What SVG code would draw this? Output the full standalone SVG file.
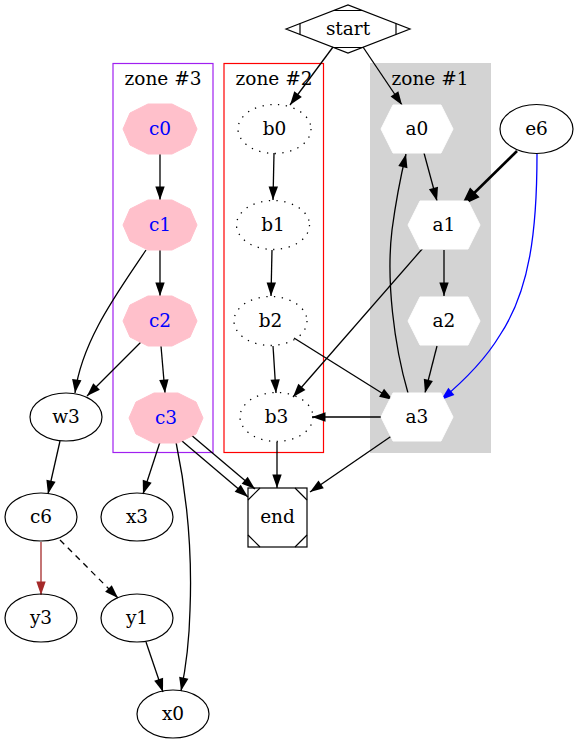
<svg xmlns="http://www.w3.org/2000/svg" width="579" height="744" viewBox="0 0 579 744">
<style>
text{font-family:"DejaVu Serif","Liberation Serif",serif;font-size:18.5px;text-anchor:middle;fill:#000}
.ct{fill:#0000ff}
.n{fill:none;stroke:#000;stroke-width:1.2}
.dot{fill:none;stroke:#000;stroke-width:1.3;stroke-dasharray:1.3,6.5}
.e{fill:none;stroke:#000;stroke-width:1.3}
.pink{fill:#ffc0cb;stroke:#ffc0cb}
.hex{fill:#fff;stroke:#fff}
</style>
<defs>
<marker id="ah" markerUnits="userSpaceOnUse" markerWidth="15" markerHeight="11" refX="13.5" refY="4.7" orient="auto" viewBox="0 0 15 9.4" overflow="visible"><path d="M0,0 L13.5,4.7 L0,9.4 z" fill="#000"/></marker>
<marker id="ahb" markerUnits="userSpaceOnUse" markerWidth="18" markerHeight="14" refX="15" refY="5.5" orient="auto" viewBox="0 0 16 11" overflow="visible"><path d="M1,0.5 L15,5.5 L1,10.5 z" fill="#000" stroke="#000" stroke-width="1.5"/></marker>
<marker id="ahblue" markerUnits="userSpaceOnUse" markerWidth="15" markerHeight="11" refX="13.5" refY="4.7" orient="auto" viewBox="0 0 15 9.4" overflow="visible"><path d="M0,0 L13.5,4.7 L0,9.4 z" fill="#0000ff"/></marker>
<marker id="ahbr" markerUnits="userSpaceOnUse" markerWidth="15" markerHeight="11" refX="13.5" refY="4.7" orient="auto" viewBox="0 0 15 9.4" overflow="visible"><path d="M0,0 L13.5,4.7 L0,9.4 z" fill="#a52a2a"/></marker>
</defs>
<rect width="579" height="744" fill="#fff"/>
<g id="clusters">
<g id="cluster_zone3"><rect x="113" y="63.5" width="100" height="389" fill="none" stroke="#a020f0" stroke-width="1.2"/><text x="163" y="85">zone #3</text></g>
<g id="cluster_zone2"><rect x="224" y="63.5" width="99.5" height="389" fill="none" stroke="#ff0000" stroke-width="1.2"/><text x="274" y="85">zone #2</text></g>
<g id="cluster_zone1"><rect x="370" y="63" width="121" height="390" fill="#d3d3d3"/><text x="430" y="85">zone #1</text></g>
</g>
<g id="edges">
<path class="e" d="M333,47 L290,105" marker-end="url(#ah)"/>
<path class="e" d="M363,47 L402,105" marker-end="url(#ah)"/>
<path class="e" d="M160,154 L160,200" marker-end="url(#ah)"/>
<path class="e" d="M160,250 L160,296" marker-end="url(#ah)"/>
<path class="e" d="M146,250 C118,292 82,340 75,393" marker-end="url(#ah)"/>
<path class="e" d="M141,342 L87,396" marker-end="url(#ah)"/>
<path class="e" d="M161,346 L165,393" marker-end="url(#ah)"/>
<path class="e" d="M160,442 L143,494" marker-end="url(#ah)"/>
<path class="e" d="M182,441 L248,497" marker-end="url(#ah)"/>
<path class="e" d="M190,434 L255,489" marker-end="url(#ah)"/>
<path class="e" d="M176,442 C188,500 192,560 190,610 C189,650 185,672 181,691" marker-end="url(#ah)"/>
<path class="e" d="M60,441 L48,494" marker-end="url(#ah)"/>
<path class="e" d="M41,542 L41,595" style="stroke:#a52a2a" marker-end="url(#ahbr)"/>
<path class="e" d="M60,540 L118,598" stroke-dasharray="6,5" marker-end="url(#ah)"/>
<path class="e" d="M146,642 L163,692" marker-end="url(#ah)"/>
<path class="e" d="M274,153 L273,200" marker-end="url(#ah)"/>
<path class="e" d="M272,250 L271,296" marker-end="url(#ah)"/>
<path class="e" d="M273,346 L276,393" marker-end="url(#ah)"/>
<path class="e" d="M294,338 L393,400" marker-end="url(#ah)"/>
<path class="e" d="M423,248 L293,397" marker-end="url(#ah)"/>
<path class="e" d="M381,417 L312,417" marker-end="url(#ah)"/>
<path class="e" d="M277,442 L277,488" marker-end="url(#ah)"/>
<path class="e" d="M393,435 L310,492" marker-end="url(#ah)"/>
<path class="e" d="M424,153 L437,201" marker-end="url(#ah)"/>
<path class="e" d="M444,250 L444,296" marker-end="url(#ah)"/>
<path class="e" d="M437,346 L425,393" marker-end="url(#ah)"/>
<path class="e" d="M408,393 C394,345 386,280 392,230 C396,200 401,175 406,154" marker-end="url(#ah)"/>
<path class="e" d="M517,151 L463,204" style="stroke-width:2.6" marker-end="url(#ahb)"/>
<path class="e" d="M537,154 C537,230 530,290 500,335 C485,360 465,380 441,400" style="stroke:#0000ff" marker-end="url(#ahblue)"/>
</g>
<g id="start"><polygon class="n" points="286,29 348,5 410,29 348,53"/><path class="n" d="M334,10.5 L362,10.5 M300,23.5 L300,34.5 M396,23.5 L396,34.5 M334,47.5 L362,47.5"/><text x="348" y="35">start</text></g>
<g id="c0"><polygon class="pink" points="148,104 172,104 190,113 197,129 190,145 172,154 148,154 130,145 123,129 130,113"/><text class="ct" x="160" y="135">c0</text></g>
<g id="c1"><polygon class="pink" points="148,200 172,200 190,209 197,225 190,241 172,250 148,250 130,241 123,225 130,209"/><text class="ct" x="160" y="231">c1</text></g>
<g id="c2"><polygon class="pink" points="148,296 172,296 190,305 197,321 190,337 172,346 148,346 130,337 123,321 130,305"/><text class="ct" x="160" y="327">c2</text></g>
<g id="c3"><polygon class="pink" points="154,393 178,393 196,402 203,418 196,434 178,443 154,443 136,434 129,418 136,402"/><text class="ct" x="166" y="424">c3</text></g>
<g id="b0"><ellipse class="dot" cx="274.5" cy="129" rx="36.5" ry="24.5"/><text x="274.5" y="135">b0</text></g>
<g id="b1"><ellipse class="dot" cx="273" cy="225" rx="36.5" ry="24.5"/><text x="273" y="231">b1</text></g>
<g id="b2"><ellipse class="dot" cx="270.5" cy="321" rx="36.5" ry="24.5"/><text x="270.5" y="327">b2</text></g>
<g id="b3"><ellipse class="dot" cx="276.5" cy="417" rx="36.5" ry="24.5"/><text x="276.5" y="423">b3</text></g>
<g id="a0"><polygon class="hex" points="381,129 393,105 441,105 453,129 441,153 393,153"/><text x="417" y="135">a0</text></g>
<g id="a1"><polygon class="hex" points="408,225 420,201 468,201 480,225 468,249 420,249"/><text x="444" y="231">a1</text></g>
<g id="a2"><polygon class="hex" points="408,321 420,297 468,297 480,321 468,345 420,345"/><text x="444" y="327">a2</text></g>
<g id="a3"><polygon class="hex" points="381,417 393,393 441,393 453,417 441,441 393,441"/><text x="417" y="423">a3</text></g>
<g id="e6"><ellipse class="n" cx="536.5" cy="129" rx="36.5" ry="24.5"/><text x="536.5" y="135">e6</text></g>
<g id="w3"><ellipse class="n" cx="66" cy="417" rx="36" ry="24"/><text x="66" y="423">w3</text></g>
<g id="c6"><ellipse class="n" cx="41" cy="517" rx="36" ry="24"/><text x="41" y="523">c6</text></g>
<g id="x3"><ellipse class="n" cx="137" cy="517" rx="36" ry="24"/><text x="137" y="523">x3</text></g>
<g id="y3"><ellipse class="n" cx="41" cy="618" rx="36" ry="24"/><text x="41" y="624">y3</text></g>
<g id="y1"><ellipse class="n" cx="137" cy="618" rx="36" ry="24"/><text x="137" y="624">y1</text></g>
<g id="x0"><ellipse class="n" cx="173" cy="714" rx="36" ry="24"/><text x="173" y="720">x0</text></g>
<g id="end"><rect class="n" x="248" y="488" width="59" height="59"/><path class="n" d="M248,500 L260,488 M295,488 L307,500 M248,535 L260,547 M295,547 L307,535"/><text x="277.5" y="523">end</text></g>
</svg>
